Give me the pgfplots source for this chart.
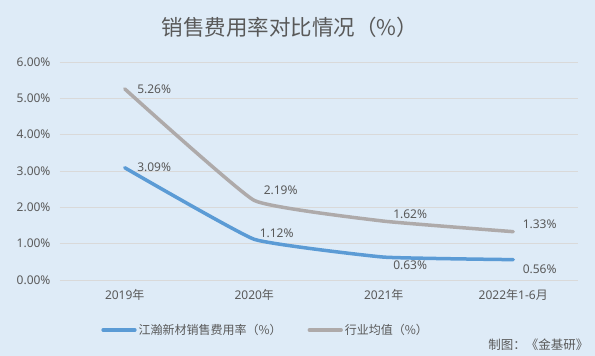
\documentclass[border=0pt]{standalone}
\usepackage{pgfplots}
\pgfplotsset{compat=1.18}
\usepackage{fontspec}
\setmainfont{Noto Sans}
\newfontfamily\cjk{Noto Sans CJK SC}
\definecolor{bgc}{HTML}{DEEBF7}
\definecolor{txt}{HTML}{595959}
\definecolor{blu}{HTML}{5B9BD5}
\definecolor{gry}{HTML}{AEAAAA}
\definecolor{grd}{HTML}{D9D9D9}
\begin{document}
\begin{tikzpicture}[x=1pt,y=1pt]
\fill[bgc] (0,0) rectangle (595,356);
\path[use as bounding box] (0,0) rectangle (595,356);
\node[text=txt, font=\cjk\fontsize{21.5}{25}\selectfont] at (290,329) {销售费用率对比情况（\%）};
\node[text=txt, font=\cjk\fontsize{12.5}{14}\selectfont, anchor=east] at (592,11) {制图：《金基研》};
\begin{axis}[
  at={(60pt,76pt)}, anchor=south west,
  scale only axis, width=518pt, height=218pt,
  xmin=-0.5, xmax=3.5, ymin=0, ymax=6,
  xtick={0,1,2,3},
  xticklabels={{2019{\cjk 年}},{2020{\cjk 年}},{2021{\cjk 年}},{2022{\cjk 年}1-6{\cjk 月}}},
  ytick={0,1,2,3,4,5,6},
  yticklabel={\pgfmathprintnumber[fixed,fixed zerofill,precision=2]{\tick}\%},
  /pgf/number format/assume math mode=true,
  ticklabel style={text=txt, font=\fontsize{12}{14}\selectfont},
  yticklabel style={xshift=-6pt},
  xticklabel style={yshift=-6pt},
  axis line style={draw=none},
  tick style={draw=none},
  ymajorgrids, major grid style={draw=grd, line width=0.8pt},
  legend style={at={(0.397,-0.229)}, anchor=center, draw=none, fill=none,
    legend columns=2, font=\cjk\fontsize{12}{14}\selectfont, text=txt,
    /tikz/every even column/.append style={column sep=24pt}},
  legend image code/.code={\draw[#1, line width=3.2pt, line cap=round] (0pt,0pt) -- (32pt,0pt);},
  clip=false,
]
\addplot[blu, line width=3.5pt, smooth, tension=0.2, line cap=round] coordinates {(0,3.09) (1,1.12) (2,0.63) (3,0.56)};
\addlegendentry{江瀚新材销售费用率（\%）}
\addplot[gry, line width=3.5pt, smooth, tension=0.2, line cap=round] coordinates {(0,5.26) (1,2.19) (2,1.62) (3,1.33)};
\addlegendentry{行业均值（\%）}
\begin{scope}[every node/.style={text=txt, font=\fontsize{12}{14}\selectfont, anchor=west}]
\node[xshift=9pt] at (axis cs:0,5.26) {5.26\%};
\node[xshift=9pt] at (axis cs:0,3.09) {3.09\%};
\node[xshift=6pt, yshift=10pt] at (axis cs:1,2.19) {2.19\%};
\node[xshift=2pt, yshift=6pt] at (axis cs:1,1.12) {1.12\%};
\node[xshift=6pt, yshift=7pt] at (axis cs:2,1.62) {1.62\%};
\node[xshift=6pt, yshift=-8pt] at (axis cs:2,0.63) {0.63\%};
\node[xshift=6pt, yshift=7pt] at (axis cs:3,1.33) {1.33\%};
\node[xshift=6pt, yshift=-10pt] at (axis cs:3,0.56) {0.56\%};
\end{scope}
\end{axis}
\end{tikzpicture}
\end{document}
